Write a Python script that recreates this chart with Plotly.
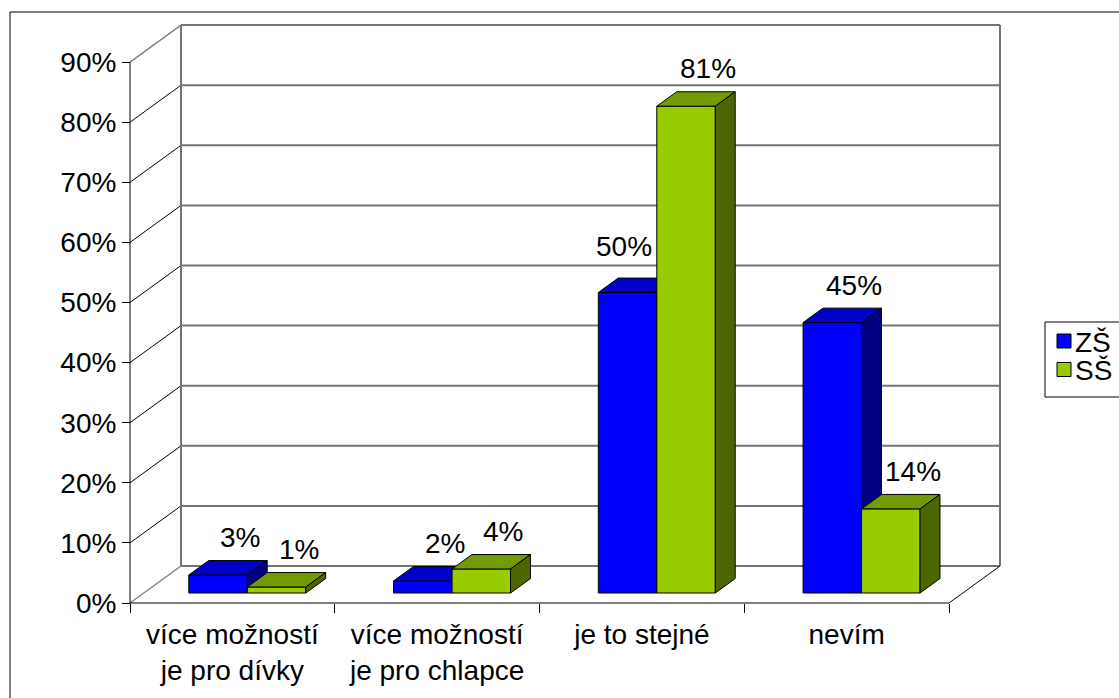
import plotly.graph_objects as go

# ---------------- data ----------------
categories = ["více možností<br>je pro dívky", "více možností<br>je pro chlapce", "je to stejné", "nevím"]
series_names = ["ZŠ", "SŠ"]
zs_values = [0.03, 0.02, 0.50, 0.45]
ss_values = [0.01, 0.04, 0.81, 0.14]
y_ticks = [0.0, 0.1, 0.2, 0.3, 0.4, 0.5, 0.6, 0.7, 0.8, 0.9]

# ---------------- geometry / style ----------------
W, H = 1119, 698
X0_PX, CAT_PX = 130, 204.75        # front plane: x=0 pixel, pixels per category
Y0_PX, UNIT_PX = 603, 601.0        # front plane: y=0 pixel, pixels per 100 %
DEPTH_DX_PX, DEPTH_DY_PX = 51, 37  # oblique depth offset in pixels

XR = [-X0_PX / CAT_PX, (W - X0_PX) / CAT_PX]
YR = [-(H - Y0_PX) / UNIT_PX, Y0_PX / UNIT_PX]
DX = DEPTH_DX_PX / CAT_PX
DY = DEPTH_DY_PX / UNIT_PX
F0, F1 = 0.27, 0.66          # bar front / back depth fraction
BAR_W = 0.2857
GROUP_OFF = 0.22
FONT = "Liberation Sans, Arial, sans-serif"
FS = 28
LABEL_DX_PX = 22             # data-label horizontal offset from bar front centre
LABEL_DY_PX = 23             # data-label vertical offset above bar back top

colors = {
    "ZŠ": dict(front="#0000FF", top="#0000C8", side="#000080"),
    "SŠ": dict(front="#99CC00", top="#739A00", side="#4C6600"),
}

fig = go.Figure()


def seg(xs, ys, color, width=1.0):
    fig.add_trace(go.Scatter(x=xs, y=ys, mode="lines", line=dict(color=color, width=width),
                             hoverinfo="skip", showlegend=False))


def poly(xs, ys, fill):
    fig.add_trace(go.Scatter(x=xs + [xs[0]], y=ys + [ys[0]], mode="lines", fill="toself",
                             fillcolor=fill, line=dict(color="black", width=1),
                             hoverinfo="skip", showlegend=False))


n = len(categories)
ymax = y_ticks[-1]
GRID_GREY = "#747474"

# back wall gridlines and side wall diagonals
for v in y_ticks:
    seg([DX, n + DX], [v + DY, v + DY], GRID_GREY, 2)
    edge = (v == y_ticks[0]) or (v == ymax)
    seg([0, DX], [v, v + DY], "#808080" if edge else "black", 1.4 if edge else 1)
# wall verticals
seg([DX, DX], [DY, ymax + DY], GRID_GREY, 2)
seg([n + DX, n + DX], [DY, ymax + DY], GRID_GREY, 2)
# floor right diagonal
seg([n, n + DX], [0, DY], "black", 1)

# bars
series = [("ZŠ", zs_values), ("SŠ", ss_values)]
for i in range(n):
    for s, (name, vals) in enumerate(series):
        v = vals[i]
        c = colors[name]
        xl = i + GROUP_OFF + s * BAR_W
        xr = xl + BAR_W
        x0f, y0f = F0 * DX, F0 * DY
        x1f, y1f = F1 * DX, F1 * DY
        # front
        poly([xl + x0f, xr + x0f, xr + x0f, xl + x0f], [y0f, y0f, v + y0f, v + y0f], c["front"])
        # top
        poly([xl + x0f, xr + x0f, xr + x1f, xl + x1f], [v + y0f, v + y0f, v + y1f, v + y1f], c["top"])
        # side
        poly([xr + x0f, xr + x1f, xr + x1f, xr + x0f], [y0f, y1f, v + y1f, v + y0f], c["side"])

# front axis lines
seg([0, 0], [0, ymax], "black", 1)
seg([0, n], [0, 0], "black", 1)

# data labels (shifted left / up when they would collide with a taller neighbouring bar)
annotations = []
for i in range(n):
    for s, (name, vals) in enumerate(series):
        v = vals[i]
        text = f"{round(v * 100)}%"
        xc = i + GROUP_OFF + (s + 0.5) * BAR_W + F0 * DX
        xshift, yshift = LABEL_DX_PX, LABEL_DY_PX
        if s + 1 < len(series):
            nxt = series[s + 1][1][i]
            label_w = 0.52 * FS * len(text) + 0.3 * FS
            room = BAR_W / 2 * CAT_PX - 7 - label_w / 2
            if nxt > v + F1 * DY and room < xshift:
                xshift = room
                yshift = LABEL_DY_PX + 9
        annotations.append(dict(x=xc, y=v + F1 * DY, xref="x", yref="y", text=text,
                                showarrow=False, xshift=xshift, yshift=yshift, yanchor="middle",
                                font=dict(family=FONT, size=FS, color="black")))

# legend (manual, Excel style)
def px_x(p):
    return p / W


def px_y(p):
    return 1 - p / H


shapes = [
    dict(type="rect", xref="paper", yref="paper", x0=px_x(10), x1=1.2, y0=px_y(12), y1=-0.2,
         line=dict(color="black", width=1), fillcolor="rgba(0,0,0,0)", layer="above"),
    dict(type="rect", xref="paper", yref="paper", x0=px_x(1045), x1=1.1, y0=px_y(322), y1=px_y(397),
         line=dict(color="black", width=1), fillcolor="white", layer="above"),
]
for k, name in enumerate(series_names):
    cy = 341 + k * 28.5
    shapes.append(dict(type="rect", xref="paper", yref="paper", x0=px_x(1057), x1=px_x(1071),
                       y0=px_y(cy - 7), y1=px_y(cy + 7), line=dict(color="black", width=1),
                       fillcolor=colors[name]["front"], layer="above"))
    annotations.append(dict(x=px_x(1073), y=px_y(cy + 1), xref="paper", yref="paper", text=name,
                            showarrow=False, xanchor="left", yanchor="middle",
                            font=dict(family=FONT, size=FS, color="black")))

fig.update_layout(
    width=W, height=H, autosize=False,
    margin=dict(l=0, r=0, t=0, b=0, pad=0),
    paper_bgcolor="white", plot_bgcolor="white",
    showlegend=False,
    xaxis=dict(range=XR, domain=[0, 1], anchor="free", position=(H - Y0_PX) / H,
               tickmode="array", tickvals=[i + 0.5 for i in range(n)], ticktext=categories,
               ticks="", showline=False, showgrid=False, zeroline=False, fixedrange=True,
               tickfont=dict(family=FONT, size=FS, color="black"), ticklabelstandoff=12,
               minor=dict(tickmode="array", tickvals=list(range(n + 1)), ticks="outside",
                          ticklen=9, tickcolor="black", tickwidth=1, showgrid=False)),
    yaxis=dict(range=YR, domain=[0, 1], anchor="free", position=X0_PX / W,
               tickmode="array", tickvals=y_ticks, tickformat=".0%",
               ticks="outside", ticklen=8, tickcolor="black", tickwidth=1,
               showline=False, showgrid=False, zeroline=False, fixedrange=True,
               tickfont=dict(family=FONT, size=FS, color="black")),
    annotations=annotations,
    shapes=shapes,
)

fig.write_html("out.html", config={"displayModeBar": False},
               post_script="document.body.style.margin='0';document.body.style.overflow='hidden';")
